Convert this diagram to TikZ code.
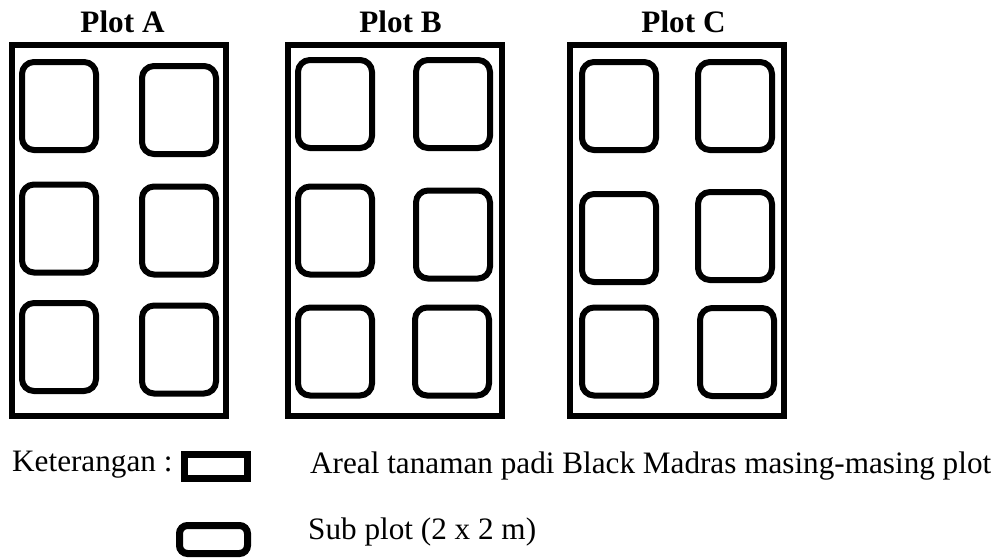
\documentclass[tikz,border=0pt]{standalone}
\usepackage{fontspec}
\setmainfont{Liberation Serif}
\begin{document}
\begin{tikzpicture}[x=1pt,y=-1pt,
  plotframe/.style={draw, line width=6pt, minimum width=214pt, minimum height=371.5pt, inner sep=0pt},
  subplot/.style={draw, line width=6pt, rounded corners=12pt, minimum width=74pt, minimum height=88pt, inner sep=0pt},
  plottitle/.style={anchor=base, inner sep=0pt, font=\fontsize{31.2}{37}\selectfont\bfseries},
  legendtext/.style={anchor=base west, inner sep=0pt, font=\fontsize{31.2}{37}\selectfont},
  areabox/.style={draw, line width=7pt, minimum width=63pt, minimum height=24pt, inner sep=0pt},
  subbox/.style={draw, line width=7pt, rounded corners=8pt, minimum width=68pt, minimum height=28pt, inner sep=0pt}]
\useasboundingbox (0,0) rectangle (1007,558);

% plot frames
\node[plotframe] (plotA) at (119,230.25) {};
\node[plotframe] (plotB) at (395.25,230.25) {};
\node[plotframe] (plotC) at (677,230.25) {};

% titles
\node[plottitle] (titleA) at (122.5,32) {Plot A};
\node[plottitle] (titleB) at (400.5,32) {Plot B};
\node[plottitle] (titleC) at (683.5,32) {Plot C};

% sub plots of plot A
\node[subplot] (a11) at (59,106) {};
\node[subplot] (a12) at (179,110) {};
\node[subplot] (a21) at (59,228.5) {};
\node[subplot] (a22) at (179,230.5) {};
\node[subplot] (a31) at (59,347) {};
\node[subplot] (a32) at (179,349.5) {};

% sub plots of plot B
\node[subplot] (b11) at (335,104) {};
\node[subplot] (b12) at (453,104) {};
\node[subplot] (b21) at (335,230.5) {};
\node[subplot] (b22) at (453,234.5) {};
\node[subplot] (b31) at (335,351.5) {};
\node[subplot] (b32) at (452,351.5) {};

% sub plots of plot C
\node[subplot] (c11) at (619,106) {};
\node[subplot] (c12) at (735,106) {};
\node[subplot] (c21) at (619,238) {};
\node[subplot] (c22) at (735,236) {};
\node[subplot] (c31) at (619,351.5) {};
\node[subplot] (c32) at (737,352) {};

% legend
\node[legendtext] (ket) at (12,471) {Keterangan :};
\node[areabox] (legA) at (216,466.5) {};
\node[legendtext] (legAtext) at (310,473) {Areal tanaman padi Black Madras masing-masing plot};
\node[subbox] (legS) at (213.5,539.5) {};
\node[legendtext] (legStext) at (308,539) {Sub plot (2 x 2 m)};
\end{tikzpicture}
\end{document}
